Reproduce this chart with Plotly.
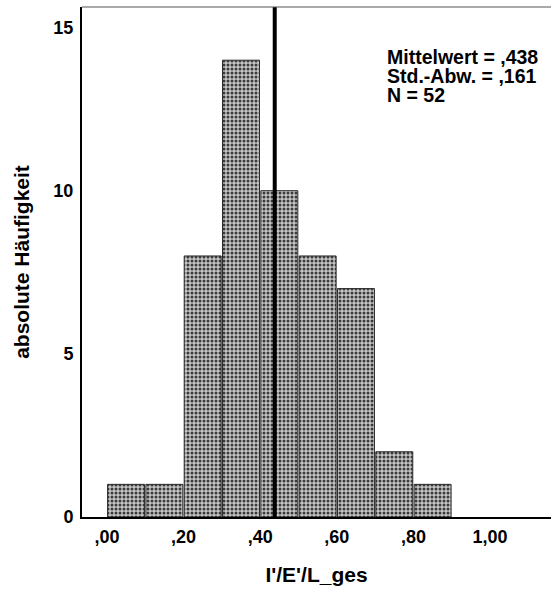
import plotly.graph_objects as go

# Histogram of I'/E'/L_ges (bin width 0.1)
bin_starts = [0.0, 0.1, 0.2, 0.3, 0.4, 0.5, 0.6, 0.7, 0.8]
counts = [1, 1, 8, 14, 10, 8, 7, 2, 1]
bin_width = 0.1
mean_value = 0.438
std_value = 0.161
n_total = 52

x_tick_vals = [0.0, 0.2, 0.4, 0.6, 0.8, 1.0]
x_tick_text = [",00", ",20", ",40", ",60", ",80", "1,00"]
y_tick_vals = [0, 5, 10, 15]

centers = [s + bin_width / 2 for s in bin_starts]

font_family = "Arial, Liberation Sans, sans-serif"

fig = go.Figure()
fig.add_trace(go.Bar(
    x=centers,
    y=counts,
    width=[bin_width * 0.965] * len(counts),
    marker=dict(
        color="#b8b8b8",
        line=dict(color="#2a2a2a", width=1),
        pattern=dict(shape=".", fgcolor="#3a3a3a", bgcolor="#c6c6c6",
                     size=4, solidity=0.45, fillmode="replace"),
    ),
    hoverinfo="skip",
))

# Vertical line at the mean
fig.add_shape(type="line", xref="x", yref="paper",
              x0=mean_value, x1=mean_value, y0=0, y1=1,
              line=dict(color="black", width=4))

# Top frame line
fig.add_shape(type="line", xref="paper", yref="paper",
              x0=0, x1=1, y0=1, y1=1,
              line=dict(color="#555555", width=1))

# Summary statistics, one line per annotation for tight spacing
stats_lines = [
    f"Mittelwert = ,{round(mean_value * 1000):03d}",
    f"Std.-Abw. = ,{round(std_value * 1000):03d}",
    f"N = {n_total}",
]
stats_y = [0.901, 0.8645, 0.828]
for line, yy in zip(stats_lines, stats_y):
    fig.add_annotation(
        xref="paper", yref="paper", x=0.645, y=yy,
        xanchor="left", yanchor="middle", align="left", showarrow=False,
        text=f"<b>{line}</b>",
        font=dict(family=font_family, size=19.5, color="black"),
    )

fig.update_layout(
    width=551, height=590,
    margin=dict(l=82, r=0, t=7, b=73),
    paper_bgcolor="white", plot_bgcolor="white",
    showlegend=False,
    font=dict(family=font_family, color="black"),
    xaxis=dict(
        range=[-0.065, 1.159],
        tickvals=x_tick_vals, ticktext=[f"<b>{t}</b>" for t in x_tick_text],
        tickfont=dict(size=18),
        showgrid=False, zeroline=False,
        showline=True, linecolor="black", linewidth=2,
        ticks="outside", ticklen=2, tickcolor="white",
        title=dict(text="<b>I'/E'/L_ges</b>", font=dict(size=21), standoff=22),
    ),
    yaxis=dict(
        range=[0, 15.63],
        tickvals=y_tick_vals, ticktext=[f"<b>{v}</b>" for v in y_tick_vals],
        tickfont=dict(size=18),
        showgrid=False, zeroline=False,
        showline=True, linecolor="black", linewidth=2,
        ticks="outside", ticklen=3, tickcolor="white",
        title=dict(text="<b>absolute Häufigkeit</b>", font=dict(size=21), standoff=18),
    ),
)

fig.write_html("out.html")
